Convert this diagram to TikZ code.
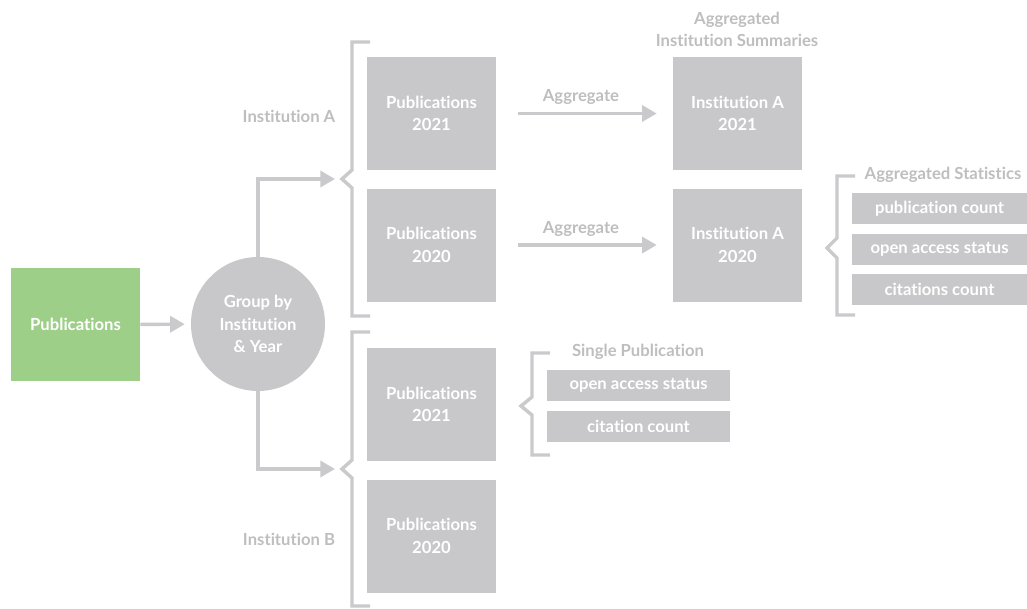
\documentclass[tikz,border=0pt]{standalone}
\usepackage{fontspec}
\setmainfont{Lato}[Ligatures=NoCommon]
\usetikzlibrary{arrows.meta,positioning}
\definecolor{boxgray}{HTML}{C8C8CA}
\definecolor{linegray}{HTML}{CACACC}
\definecolor{txtgray}{HTML}{BEBEC0}
\definecolor{pubgreen}{HTML}{9ECF88}
\tikzset{
  box/.style={rectangle, fill=boxgray, text=white, minimum width=96.75pt, minimum height=84.75pt, align=center, font=\bfseries\fontsize{12.5}{17}\selectfont},
  smallbox/.style={rectangle, fill=boxgray, text=white, minimum width=131.25pt, minimum height=23.25pt, font=\bfseries\fontsize{12.5}{14}\selectfont},
  lbl/.style={text=txtgray, align=center, font=\bfseries\fontsize{12.5}{16.5}\selectfont},
  flow/.style={draw=linegray, line width=2.6pt, -{Triangle[length=11pt,width=12pt]}},
  brace/.style={draw=linegray, line width=2.6pt}
}

\begin{document}
\begin{tikzpicture}[x=0.75pt,y=-0.75pt]
\useasboundingbox (0,0) rectangle (1027,609);
\node[box, fill=pubgreen] (pubs) at (75.5,324.5) {Publications};
\node[circle, fill=boxgray, text=white, minimum size=100.5pt, inner sep=0pt, align=center, font=\bfseries\fontsize{12.5}{17}\selectfont] (grp) at (258,324) {Group by\\Institution\\\& Year};
\node[box] (pA21) at (431.5,113.5) {Publications\\2021};
\node[box, below=13.5pt of pA21] (pA20) {Publications\\2020};
\node[box] (pB21) at (431.5,404.5) {Publications\\2021};
\node[box, below=13.5pt of pB21] (pB20) {Publications\\2020};
\node[box] (sA21) at (737.5,113.5) {Institution A\\2021};
\node[box, below=13.5pt of sA21] (sA20) {Institution A\\2020};

\node[smallbox] (cntA) at (939.5,208.5) {publication count};
\node[smallbox, below=6.75pt of cntA] (oaA) {open access status};
\node[smallbox, below=6.75pt of oaA] (citA) {citations count};
\node[smallbox, minimum width=137.25pt] (oaB) at (638.5,385.5) {open access status};
\node[smallbox, minimum width=137.25pt, below=6.75pt of oaB] (citB) {citation count};

\node[lbl] (labA) at (289,116) {Institution A};
\node[lbl] (labB) at (289,539) {Institution B};
\node[lbl] (labSum) at (737,29) {Aggregated\\Institution Summaries};
\node[lbl] (labStat) at (943,175) {Aggregated Statistics};
\node[lbl] (labOne) at (638,352) {Single Publication};

\coordinate (nA) at (335,179);
\coordinate (nB) at (335,469);
\draw[brace] (370,42) -- (352,42) -- (352,170) -- (342,179) -- (352,188) -- (352,316) -- (370,316);
\draw[brace] (370,332) -- (352,332) -- (352,460) -- (342,469) -- (352,478) -- (352,606) -- (370,606);
\draw[brace] (855,176) -- (837,176) -- (837,238) -- (827,248) -- (837,258) -- (837,315) -- (855,315);
\draw[brace] (550,353) -- (532,353) -- (532,397) -- (521,406) -- (532,415) -- (532,455) -- (550,455);

\draw[flow, shorten >=4.5pt] (pubs) -- (grp);
\draw[flow] (grp.north) |- (nA);
\draw[flow] (grp.south) |- (nB);
\draw[flow, shorten <=16.5pt, shorten >=12pt] (pA21) -- node[lbl, above=2pt, pos=0.48] {Aggregate} (sA21);
\draw[flow, shorten <=16.5pt, shorten >=12pt] (pA20) -- node[lbl, above=2pt, pos=0.48] {Aggregate} (sA20);
\end{tikzpicture}
\end{document}
